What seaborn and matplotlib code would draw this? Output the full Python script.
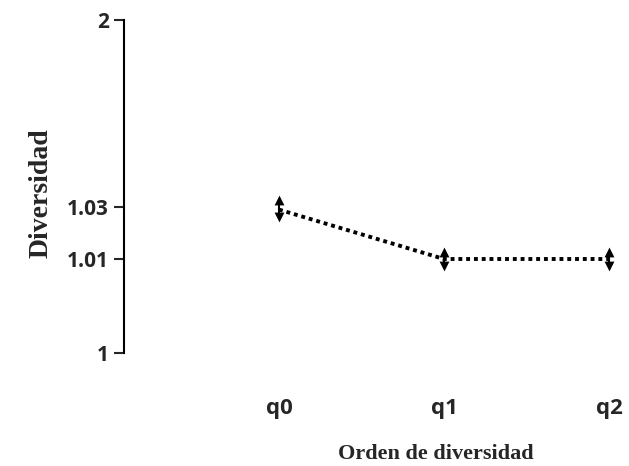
import numpy as np
import pandas as pd
import matplotlib
matplotlib.use('Agg')
import matplotlib.pyplot as plt
import seaborn as sns

# data
ordenes = ['q0', 'q1', 'q2']
diversidad = [1.029, 1.010, 1.010]
err_bajo = [1.026, 1.0093, 1.0093]
err_alto = [1.065, 1.0127, 1.0127]
yticks = [1, 1.01, 1.03, 2]

sns.set_style('white')
plt.rcParams['font.family'] = ['Open Sans', 'DejaVu Sans']

df = pd.DataFrame({'orden': ordenes, 'div': diversidad,
                   'lo': err_bajo, 'hi': err_alto})

# the y axis of the original is not linear: piecewise map of the ticks
pos = [0, 94, 146, 333]
def fwd(v):
    return np.interp(v, yticks, pos)
def inv(v):
    return np.interp(v, pos, yticks)

fig = plt.figure(figsize=(6.29, 4.66), dpi=100)
ax = fig.add_axes([124/629, 113/466, 505/629, 333/466])
ax.set_yscale('function', functions=(fwd, inv))

sns.lineplot(data=df, x='orden', y='div', ax=ax, color='black',
             linestyle=(0, (1, 1)), linewidth=2.8)
ax.vlines(df['orden'], df['lo'], df['hi'], color='black', linewidth=1.5)
sns.scatterplot(data=df, x='orden', y='hi', ax=ax, marker='^', s=50,
                color='black', edgecolor='black', linewidth=0)
sns.scatterplot(data=df, x='orden', y='lo', ax=ax, marker='v', s=50,
                color='black', edgecolor='black', linewidth=0)

ax.set_ylim(1, 2)
ax.set_xlim(-0.939, 2.121)
ax.set_yticks(yticks)
ax.set_yticklabels(['1', '1.01', '1.03', '2'])
for s in ['top', 'right', 'bottom']:
    ax.spines[s].set_visible(False)
ax.spines['left'].set_color('black')
ax.spines['left'].set_linewidth(1.5)
ax.tick_params(axis='y', left=True, length=7, width=1.5, direction='out',
               labelsize=15, pad=4)
ax.tick_params(axis='x', bottom=False, labelsize=16, pad=29)
for t in ax.get_xticklabels() + ax.get_yticklabels():
    t.set_fontweight('bold')

ax.set_ylabel('Diversidad', family='Liberation Serif', fontweight='bold',
              fontsize=20)
ax.yaxis.set_label_coords(-0.140, 0.48)
ax.set_xlabel('Orden de diversidad', family='Liberation Serif',
              fontweight='bold', fontsize=16, labelpad=18)
ax.xaxis.label.set_x(0.618)

fig.savefig('out.png', dpi=100)
